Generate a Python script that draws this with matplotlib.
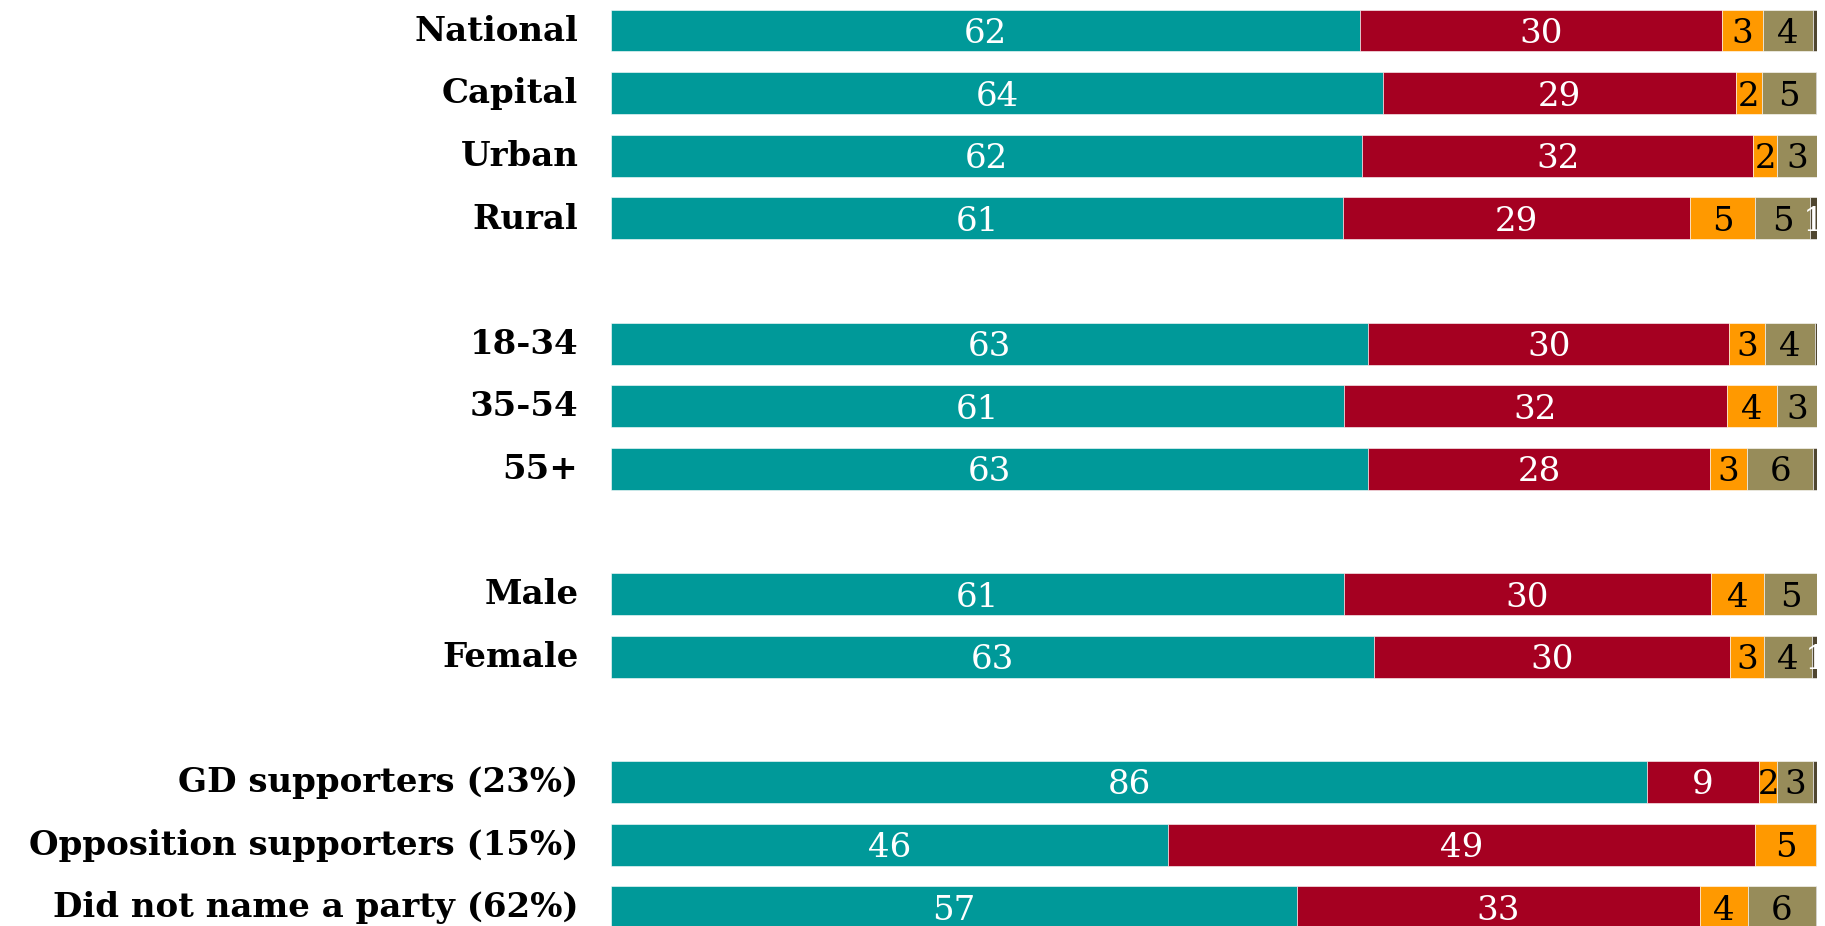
import matplotlib
matplotlib.use("Agg")
import matplotlib.pyplot as plt
import matplotlib.transforms as mtransforms

categories = ["National", "Capital", "Urban", "Rural",
              "18-34", "35-54", "55+",
              "Male", "Female",
              "GD supporters (23%)", "Opposition supporters (15%)", "Did not name a party (62%)"]
positions = [0, 1, 2, 3, 5, 6, 7, 9, 10, 12, 13, 14]

teal_vals   = [62.1, 64.0, 62.3, 60.7, 62.8, 60.8, 62.8, 60.8, 63.3, 85.9, 46.2, 56.9]
red_vals    = [30.0, 29.3, 32.4, 28.8, 29.9, 31.7, 28.3, 30.4, 29.5,  9.3, 48.7, 33.4]
orange_vals = [ 3.4,  2.1,  2.0,  5.4,  3.0,  4.2,  3.1,  4.4,  2.8,  1.5,  5.0,  4.0]
olive_vals  = [ 4.2,  4.5,  3.3,  4.5,  4.1,  3.3,  5.5,  4.5,  4.0,  3.0,  0.1,  5.6]
dark_vals   = [ 0.3,  0.1,  0.0,  0.6,  0.2,  0.0,  0.3,  0.0,  0.5,  0.3,  0.0,  0.1]

series = [teal_vals, red_vals, orange_vals, olive_vals, dark_vals]
colors = ["#009999", "#A50021", "#FF9900", "#978C5A", "#4F4630"]
text_colors = ["white", "white", "black", "black", "white"]

FONT = "DejaVu Serif"

fig = plt.figure(figsize=(18.25, 9.26), dpi=100)
ax = fig.add_axes([611 / 1825, 0, (1817 - 611) / 1825, 1])

lefts = [0.0] * len(categories)
for vals, col, tcol in zip(series, colors, text_colors):
    ax.barh(positions, vals, left=lefts, height=0.67, color=col,
            edgecolor="white", linewidth=0.4)
    for p, l, v in zip(positions, lefts, vals):
        lab = int(v + 0.5)
        if lab >= 1:
            ax.text(l + v / 2, p + 0.2, f"{lab}", ha="center", va="baseline",
                    color=tcol, fontsize=24.5, family=FONT)
    lefts = [a + b for a, b in zip(lefts, vals)]

ax.set_xlim(0, 100)
ax.set_ylim(14.30, -0.487)
ax.set_yticks(positions)
ax.set_yticklabels(categories, family=FONT, fontsize=24.5, fontweight="bold")
ax.tick_params(axis="y", length=0, pad=23.5)
ax.tick_params(axis="x", bottom=False, labelbottom=False)
offset = mtransforms.ScaledTranslation(0, 2 / 72, fig.dpi_scale_trans)
for t in ax.get_yticklabels():
    t.set_transform(t.get_transform() + offset)
for s in ax.spines.values():
    s.set_visible(False)

fig.savefig("out.png", dpi=100)
